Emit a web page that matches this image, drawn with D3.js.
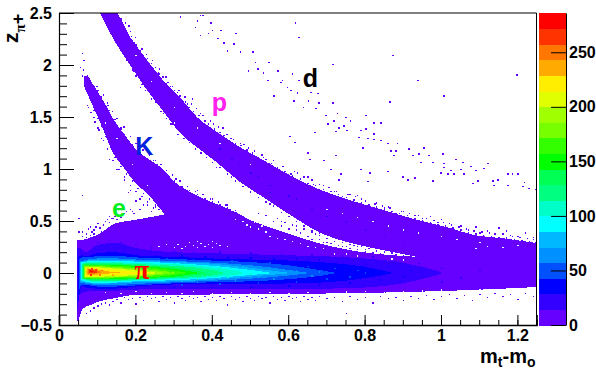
<!DOCTYPE html>
<html>
<head>
<meta charset="utf-8">
<script src="https://d3js.org/d3.v7.min.js"></script>
<style>
  html, body { margin: 0; background: #fff; }
  svg { display: block; }
  text { font-family: "Liberation Sans", Arial, sans-serif; font-weight: bold; fill: #000; }
</style>
</head>
<body>
<svg id="chart" width="596" height="372"></svg>
<script>
const palette = ["#6600ff", "#3300ff", "#0000ff", "#0050ff", "#0090ff", "#00b8ff", "#00ffff", "#00ffc8", "#00ff80", "#00ff55",
  "#00ff00", "#33ff00", "#77ff00", "#a0ff00", "#e0ff00", "#ffee00", "#ffaa00", "#ff7700", "#ff3300", "#ff0000"];
const colorMax = 286;
const colorTicks = [0, 50, 100, 150, 200, 250];
const xTicks = [0, 0.2, 0.4, 0.6, 0.8, 1, 1.2];
const yTicks = [-0.5, 0, 0.5, 1, 1.5, 2, 2.5];

// outer edges of the particle bands: [mt, z high, z low]
const mainBand = [[.046,.32,-.43],[.05,.32,-.47],[.055,.32,-.41],[.063,.32,-.34],[.081,.34,-.31],[.10,.365,-.28],[.149,.48,-.24],[.199,.51,-.21],[.272,.56,-.21],[.369,.62,-.21],[.45,.6,-.2],[.50,.51,-.2],[.587,.395,-.2],[.676,.29,-.2],[.762,.22,-.19],[.815,.19,-.19],[.938,.155,-.18],[1.069,.105,-.165],[1.25,.105,-.135]];
const kaonBand = [[.065,1.89,1.80],[.076,1.89,1.71],[.086,1.83,1.625],[.102,1.74,1.5],[.115,1.66,1.385],[.128,1.58,1.27],[.139,1.5,1.17],[.155,1.41,1.08],[.168,1.35,1.02],[.186,1.26,.93],[.204,1.18,.85],[.233,1.10,.76],[.265,1.02,.615],[.309,.856,.46],[.343,.78,.41],[.388,.70,.41],[.45,.61,.4]];
const protonBand = [[.107,2.5,2.5],[.147,2.5,2.22],[.186,2.27,2.0],[.23,2.05,1.76],[.272,1.855,1.56],[.317,1.69,1.345],[.361,1.5,1.21],[.414,1.356,1.06],[.474,1.21,.875],[.534,1.087,.73],[.613,.923,.54],[.684,.80,.385],[.762,.70,.29],[.849,.606,.22],[.938,.51,.155],[1.024,.433,.105],[1.085,.365,.105],[1.155,.337,.105],[1.25,.288,.105]];

// nested count contours of the pion blob: [mt, z high, z low]
const contour15 = [[.048,.24,-.36],[.055,.24,-.2],[.07,.20,-.18],[.1,.27,-.17],[.15,.29,-.17],[.2,.24,-.16],[.3,.2,-.15],[.4,.19,-.15],[.5,.18,-.15],[.6,.17,-.15],[.7,.16,-.15],[.8,.14,-.14],[.9,.1,-.1],[1.0,.01,-.01]];
const contour29 = [[.05,.16,-.3],[.06,.17,-.12],[.07,.16,-.14],[.1,.19,-.15],[.15,.2,-.15],[.2,.17,-.13],[.3,.155,-.11],[.4,.14,-.11],[.5,.13,-.11],[.6,.12,-.10],[.7,.1,-.09],[.8,.06,-.05],[.87,.005,-.005]];
const contour43 = [[.052,.13,-.18],[.06,.15,-.11],[.1,.16,-.13],[.15,.165,-.13],[.2,.15,-.12],[.3,.135,-.1],[.4,.12,-.09],[.5,.105,-.08],[.6,.075,-.06],[.68,.03,-.03],[.72,.005,-.005]];
const contour58 = [[.054,.11,-.09],[.1,.14,-.115],[.15,.14,-.115],[.2,.13,-.105],[.3,.115,-.09],[.4,.1,-.075],[.5,.075,-.055],[.6,.03,-.025],[.65,.003,-.003]];
const contour72 = [[.055,.105,-.08],[.1,.13,-.105],[.2,.12,-.09],[.3,.105,-.08],[.4,.09,-.065],[.5,.05,-.035],[.58,.012,-.01],[.6,.004,-.004]];
const contour86 = [[.057,.10,-.07],[.1,.12,-.1],[.2,.11,-.08],[.3,.095,-.07],[.4,.07,-.05],[.5,.03,-.02],[.55,.005,-.005]];
const contour100 = [[.06,.095,-.06],[.1,.11,-.09],[.2,.095,-.07],[.3,.085,-.06],[.4,.055,-.04],[.48,.01,-.01]];
const contour115 = [[.061,.09,-.055],[.1,.1,-.08],[.2,.085,-.065],[.3,.07,-.05],[.4,.03,-.025],[.43,.005,-.005]];
const contour129 = [[.062,.085,-.055],[.1,.09,-.07],[.2,.075,-.06],[.3,.055,-.045],[.38,.01,-.01]];
const contour143 = [[.065,.08,-.055],[.1,.08,-.06],[.2,.07,-.05],[.3,.04,-.035],[.36,.005,-.005]];
const contour158 = [[.065,.075,-.05],[.1,.075,-.055],[.2,.06,-.045],[.28,.035,-.03],[.33,.005,-.005]];
const contour172 = [[.066,.065,-.045],[.1,.065,-.045],[.18,.05,-.04],[.26,.025,-.02],[.3,.005,-.005]];
const contour186 = [[.068,.06,-.04],[.1,.06,-.04],[.16,.045,-.035],[.22,.03,-.025],[.27,.005,-.005]];
const contour200 = [[.068,.055,-.035],[.1,.055,-.035],[.15,.04,-.03],[.2,.025,-.02],[.25,.005,-.005]];
const contour215 = [[.07,.05,-.03],[.1,.045,-.025],[.14,.03,-.02],[.2,.01,-.008],[.22,.004,-.002]];
const contour229 = [[.072,.045,-.02],[.1,.035,-.015],[.13,.015,-.005],[.16,.006,0]];
const contour243 = [[.075,.04,-.012],[.095,.025,-.005],[.11,.012,0]];
const contour258 = [[.078,.035,-.005],[.09,.025,-.003],[.1,.012,.004]];
const contour272 = [[.08,.03,.005],[.088,.02,.008]];
const contourLevels = [contour15, contour29, contour43, contour58, contour72, contour86, contour100, contour115, contour129, contour143, contour158, contour172, contour186, contour200, contour215, contour229, contour243, contour258, contour272];

// isolated filled bins: [mt, z]
const deuteronBins = [[.369,2.48],[.375,2.48],[.361,2.43],[.356,2.37],[.396,2.41],[.40,2.34],[.39,2.31],[.369,2.29],[.422,2.34],[.414,2.26],[.43,2.22],[.461,2.31],[.456,2.21],[.44,2.14],[.474,2.13],[.506,2.13],[.513,2.03],[.495,1.95],[.519,1.97],[.548,2.03],[.534,1.93],[.571,1.95],[.545,1.86],[.579,1.84],[.597,1.79],[.561,1.71],[.623,1.74],[.613,1.66],
  [.584,1.86],[.61,1.92],[.605,1.76],[.626,1.86],[.623,1.73],[.658,1.74],[.676,1.73],[.652,1.66],[.679,1.64],[.715,1.64],[.639,1.6],[.671,1.59],[.697,1.52],[.728,1.54],[.718,1.47],[.749,1.5],[.744,1.42],[.762,1.47],[.702,1.44],[.731,1.4],[.752,1.375],[.723,1.365],[.802,1.52],[.823,1.45],[.841,1.45],[.802,1.39],[.789,1.375],[.823,1.345],[.783,1.31],[.807,1.3],[.841,1.28],[.823,1.29],[.794,1.21],[.859,1.25],[.867,1.18],[.885,1.25],[.88,1.18],[.875,1.135],[.914,1.2],[.925,1.135],[.941,1.15],[.954,1.21],[.946,1.07],[.967,1.135],[.977,1.07],[1.003,1.15],[1.006,1.06],[1.006,1.02],[1.037,1.1],[1.056,1.07],[1.024,.99],[1.05,1.0],[1.077,1.03],[1.09,.99],[1.121,1.06],[1.111,1.01],[1.095,.89],[1.134,.89],[1.147,.9],[1.174,.96],[1.186,.96],[1.2,.96],[1.137,.85],[1.174,.85],[1.213,.84],[1.216,.875],[1.082,.865],[1.229,.82],[1.247,.81],[.998,.97],[1.016,.96],[1.032,.96],[1.058,.96],
  [.872,2.1],[.715,2.01],[1.197,1.91],[.938,1.86],[1.006,1.71],[.865,1.65],[.668,1.36],[.603,1.32],[.616,1.26],[.65,1.16],[.723,1.135],[.692,1.09],[.655,1.1],[.71,1.0],[.789,1.0],[.812,.97],[.859,.98],[.736,.96],[.731,.9],[.899,.93],[.912,.9],[.93,.92],[.977,.89],[.807,.885],[.618,2.41],[.626,2.27],[.317,2.47]];
const protonFringe = [[.16,2.45],[.181,2.38],[.191,2.22],[.204,2.14],[.22,2.1],[.251,1.98],[.259,1.93],[.283,1.84],[.309,1.74],[.348,1.68],[.335,1.63],[.369,1.54],[.403,1.44],[.427,1.4],[.448,1.3],[.474,1.25],[.495,1.21],[.534,1.12],[.548,1.06],[.579,.97],[.605,.96],[.623,.97],[.65,.93],[.665,.86],[.69,.85],[.72,.79],[.74,.74],[.76,.76],[.79,.72],[.81,.66],[.83,.68],[.86,.64],[.88,.58],[.9,.6],[.93,.56],[.95,.53],[.97,.55],[.99,.49],[1.02,.48],[1.05,.46],[1.07,.42],[1.09,.45],[1.12,.41],[1.14,.38],[1.17,.41],[1.2,.36],[1.22,.39],[1.24,.35],[1.1,.39],[1.18,.37],[1.15,.44],[1.0,.52],[.85,.63],[.78,.75],[.194,1.95],[.212,1.79],[.272,1.54],[.291,1.44],[.335,1.35],[.37,1.2],[.41,1.02],[.45,.93],[.5,.78],[.55,.67],[.6,.55],[.64,.5],[.68,.42]];
const protonUpperEdge = [[.15,2.5],[.155,2.42],[.165,2.4],[.17,2.37],[.178,2.32],[.188,2.28],[.195,2.22],[.2,2.2],[.21,2.14],[.22,2.08],[.23,2.07],[.24,2.02],[.25,1.98],[.26,1.92],[.27,1.89],[.28,1.83],[.29,1.8],[.3,1.76],[.315,1.71],[.33,1.65],[.34,1.6],[.35,1.56],[.365,1.52],[.38,1.47],[.39,1.44],[.405,1.39],[.42,1.36],[.43,1.33],[.445,1.28],[.46,1.25],[.475,1.23],[.49,1.19],[.505,1.16],[.52,1.12],[.54,1.1],[.555,1.06],[.57,1.02],[.59,.98],[.61,.94],[.63,.91],[.65,.87],[.67,.85],[.69,.81],[.71,.79],[.73,.76],[.75,.73],[.77,.71],[.79,.68],[.81,.66],[.83,.64],[.85,.62],[.87,.6],[.89,.58],[.91,.56],[.93,.53],[.95,.51],[.97,.49],[.99,.47],[1.01,.46],[1.03,.44],[1.05,.42],[1.07,.39],[1.09,.38],[1.11,.37],[1.13,.36],[1.15,.35],[1.17,.345],[1.19,.33],[1.21,.32],[1.23,.31],[1.245,.3],
  [.172,2.41],[.186,2.33],[.198,2.27],[.215,2.16],[.228,2.11],[.243,2.05],[.262,1.97],[.278,1.89],[.296,1.8],[.312,1.76],[.328,1.7],[.345,1.63],[.358,1.59],[.375,1.52],[.395,1.47],[.415,1.41],[.438,1.34],[.455,1.29],[.482,1.24],[.51,1.18],[.53,1.14],[.56,1.09],[.585,1.03],[.615,.98],[.64,.93],[.66,.9],[.68,.86],[.705,.83],[.725,.79],[.755,.76],[.775,.74],[.8,.7],[.825,.67],[.845,.65],[.865,.63],[.895,.6],[.915,.58],[.94,.56],[.96,.53],[.98,.51],[1.005,.49],[1.025,.47],[1.045,.45],[1.065,.43],[1.085,.41],[1.105,.4],[1.125,.39],[1.16,.38],[1.185,.36],[1.205,.35],[1.225,.34],[1.24,.33]];
const protonLowerEdge = [[.16,2.18],[.175,2.05],[.19,1.96],[.2,1.9],[.215,1.82],[.225,1.76],[.24,1.68],[.25,1.65],[.265,1.56],[.28,1.49],[.295,1.44],[.31,1.34],[.325,1.3],[.34,1.26],[.355,1.2],[.37,1.16],[.385,1.12],[.4,1.07],[.42,1.02],[.44,.96],[.46,.89],[.48,.84],[.5,.79],[.52,.73],[.54,.69],[.56,.65],[.58,.59],[.6,.55],[.62,.5],[.64,.46],[.66,.41],[.68,.37]];
const gapBins = [[.52,.58],[.54,.56],[.56,.5],[.57,.53],[.58,.46],[.59,.49],[.6,.43],[.61,.47],[.62,.42],[.63,.39],[.64,.43],[.65,.36],[.66,.33],[.67,.38],[.68,.33],[.69,.3],[.7,.34],[.71,.29],[.72,.31],[.73,.27],[.74,.3],[.75,.26],[.76,.24],[.77,.27],[.78,.23],[.79,.26],[.8,.21],[.81,.24],[.82,.2],[.83,.22],[.84,.19],[.85,.21],[.86,.17],[.87,.2],[.88,.18],[.9,.17],[.92,.16],[.94,.14],[.96,.12],[.62,.46],[.66,.4],[.7,.3],[.74,.26],[.8,.23],[.78,.26],[.72,.35],[.68,.39],[.76,.28],[.58,.5]];
const kaonFringe = [[.126,1.62],[.134,1.5],[.16,1.4],[.199,1.25],[.246,1.09],[.272,.96],[.304,.91],[.322,.83],[.36,.8],[.4,.72],[.44,.66],[.06,2.12],[.055,1.98],[.062,1.96],[.06,1.9],[.073,1.9],[.064,2.05],[.081,1.86],[.09,1.78],[.075,1.6],[.09,1.5],[.1,1.4],[.11,1.3],[.13,1.1],[.15,1.0],[.17,.9],[.185,.8],[.21,.72],
  [.09,1.8],[.1,1.76],[.11,1.7],[.12,1.62],[.13,1.57],[.145,1.48],[.16,1.39],[.175,1.31],[.19,1.24],[.21,1.16],[.225,1.12],[.24,1.08],[.255,1.05],[.27,.99],[.285,.94],[.3,.89],[.32,.84],[.34,.8],[.36,.76],[.38,.72],[.4,.69],[.42,.66],[.44,.63],[.46,.61],
  [.08,1.68],[.09,1.57],[.1,1.49],[.11,1.42],[.12,1.32],[.13,1.24],[.145,1.12],[.16,1.03],[.175,.96],[.19,.89],[.205,.82],[.22,.77],[.235,.72],[.25,.66],[.26,.62],[.2,.7],[.18,.78],[.22,.66],[.24,.6],
  [.098,1.8],[.115,1.72],[.125,1.64],[.138,1.56],[.15,1.49],[.168,1.41],[.185,1.32],[.2,1.25],[.218,1.19],[.235,1.14],[.25,1.09],[.265,1.05],[.28,.99],[.295,.95],[.315,.89],[.335,.84],[.355,.79],[.375,.76],[.395,.72],[.415,.69],[.435,.66],
  [.072,1.62],[.082,1.55],[.092,1.46],[.103,1.38],[.115,1.28],[.125,1.2],[.14,1.09],[.155,1.0],[.17,.93],[.185,.85],[.2,.79],[.215,.74],[.23,.69],[.245,.63]];
const mainFringe = [[.06,.75],[.05,.53],[.08,.45],[.09,.42],[.1,.48],[.12,.5],[.13,.55],[.15,.52],[.17,.58],[.19,.6],[.21,.62],[.23,.66],[.25,.64],[.05,.4],[.06,.36],[.07,.38],[.11,.4],[.13,.49],[.14,.53],[.16,.54],
  [.06,.4],[.075,.43],[.085,.4],[.095,.45],[.105,.44],[.115,.47],[.125,.52],[.135,.53],[.145,.55],[.155,.56],[.165,.56],[.175,.6],[.185,.62],[.195,.58],[.07,.35],[.09,.38],[.08,.37],
  [.07,-.38],[.08,-.36],[.09,-.33],[.1,-.31],[.11,-.29],[.12,-.28],[.13,-.3],[.14,-.27],[.15,-.25],[.16,-.28],[.17,-.23],[.18,-.25],[.19,-.24],[.2,-.29],[.21,-.23],[.22,-.26],[.23,-.22],[.24,-.24],[.25,-.23],[.26,-.27],[.27,-.22],[.28,-.25],[.29,-.23],[.3,-.28],[.31,-.22],[.32,-.24],[.33,-.26],[.34,-.22],[.35,-.24],[.36,-.23],[.37,-.27],[.38,-.22],[.39,-.25],[.4,-.23],[.41,-.26],[.42,-.22],[.43,-.24],[.44,-.3],[.45,-.22],[.46,-.25],[.47,-.23],[.48,-.27],[.49,-.22],[.5,-.24],[.51,-.26],[.52,-.22],[.53,-.24],[.54,-.23],[.55,-.28],[.56,-.22],[.57,-.25],[.58,-.23],[.59,-.26],[.6,-.22],[.61,-.24],[.62,-.23],[.63,-.27],[.64,-.22],[.65,-.25],[.66,-.23],[.67,-.26],[.68,-.22],[.7,-.24],[.72,-.23],[.74,-.27],[.75,-.38],[.76,-.22],[.78,-.25],[.8,-.23],[.82,-.28],[.84,-.22],[.86,-.24],[.88,-.23],[.9,-.26],[.92,-.22],[.94,-.24],[.96,-.21],[.98,-.25],[1.0,-.22],[1.02,-.2],[1.04,-.24],[1.06,-.21],[1.08,-.26],[1.1,-.2],[1.12,-.23],[1.14,-.19],[1.16,-.22],[1.18,-.2],[1.2,-.25],[1.22,-.19],[1.24,-.22]];
const holeBins = [[.26,.26],[.28,.28],[.3,.25],[.31,.28],[.33,.26],[.34,.3],[.35,.27],[.36,.25],[.37,.29],[.38,.26],[.39,.28],[.4,.25],[.41,.29],[.42,.27],[.44,.26],[.36,.31],[.4,.31],[.32,.24],
  [.46,.52],[.48,.5],[.49,.47],[.5,.45],[.51,.49],[.52,.43],[.53,.46],[.54,.4],[.55,.36],[.57,.34],[.59,.33],[.61,.31],[.63,.29],[.65,.26],[.67,.25],[.69,.24],[.72,.19],[.75,.19],[.78,.17],[.82,.16],[.87,.14],[.9,.13],
  [1.09,.24],[1.12,.26],[1.16,.25],[1.2,.27],[.12,-.18],[.16,-.19],[.2,-.17],[.24,-.19],[.28,-.18],[.32,-.19],[.35,-.17],[.4,-.19],[.45,-.18],[.5,-.19],[.55,-.18],[.6,-.19],[.65,-.18],[.7,-.19],[.75,-.175],[.8,-.17],[.85,-.18],[.9,-.17],[.95,-.165],[1.0,-.155],[1.05,-.16],[1.1,-.15],[1.15,-.155],[1.18,-.14],[1.22,-.15],
  [.7,.62],[.74,.58],[.78,.54],[.82,.5],[.86,.46],[.9,.42],[.94,.39],[1.0,.36],[1.04,.33],[1.1,.3],[.3,1.6],[.36,1.4],[.42,1.25],[.5,1.05],[.3,1.45],[.24,1.85],[.2,2.1],[.12,1.45],[.15,1.3],[.19,1.05],[.23,.85]];
// single bins that stand out from the smooth contours: [mt, z, count]
const grainBins = [[.42,1.2,20],[.45,1.1,20],[.47,1.05,20],[.5,.97,20],[.52,.93,20],[.55,.85,20],[.57,.82,20],[.6,.75,20],[.62,.72,20],[.66,.62,20],[.7,.55,20],[.75,.5,20],[.8,.42,20],[.85,.37,20],[.9,.3,20],[.55,.78,20],
  [.1,.3,20],[.13,.32,20],[.16,.3,20],[.2,.28,20],[.24,.25,20],[.3,.22,20],[.35,.21,20],[.42,.21,20],[.5,.2,20],[.58,.19,20],[.66,.18,20],[.74,.17,20],[.82,.16,20],[.88,.12,20],[.94,.1,20],[1.0,.05,20],[1.05,-.04,20],[1.1,.03,20],[1.0,-.08,20],
  [.25,.17,35],[.32,.17,35],[.38,.16,35],[.44,.15,35],[.5,.15,35],[.56,.14,35],[.62,.14,35],[.68,.13,35],[.74,.11,35],[.8,.09,35],[.86,.06,35],[.92,.03,35],[.9,-.03,35],[.84,-.06,35],[.76,-.09,35],[.68,-.11,35],[.6,-.12,35],[.5,-.13,35],[.4,-.13,35],[.3,-.13,35],
  [.2,.155,50],[.28,.145,50],[.35,.135,50],[.45,.125,50],[.55,.11,50],[.65,.07,50],[.72,.05,50],[.78,.03,50],[.8,.01,50],[.76,-.03,50],[.7,-.05,50],[.62,-.08,50],[.52,-.09,50],[.42,-.1,50],[.32,-.11,50],
  [.25,.125,65],[.35,.11,65],[.45,.09,65],[.55,.06,65],[.62,.03,65],[.68,.02,65],[.66,-.02,65],[.56,-.05,65],[.46,-.07,65],[.36,-.08,65],
  [.3,.1,80],[.4,.085,80],[.48,.065,80],[.54,.03,80],[.58,.01,80],[.52,-.03,80],[.42,-.055,80],[.32,-.07,80],
  [.35,.075,105],[.42,.06,105],[.46,.03,105],[.5,.0,105],[.44,-.03,105],[.36,-.05,105],[.26,.085,105],[.24,-.06,105],
  [.3,.05,130],[.36,.03,130],[.38,-.01,130],[.32,-.035,130],[.25,.06,150],[.29,.02,150],[.27,-.025,150],[.22,.045,175],[.25,.01,175],[.2,-.03,175],
  [.17,.04,205],[.2,.015,205],[.15,-.025,205],[.13,.035,220],[.17,.01,220],[.14,-.01,235],[.12,.02,235],[.11,.03,250],[.105,-.01,250],[.095,.035,262],[.085,.045,262],[.082,-.012,262],[.07,.02,235]];
const particleLabels = ["e", "K", "p", "d"];
const labelMt = [0.157, 0.223, 0.42, 0.658];
const labelZ = [0.54, 1.13, 1.56, 1.79];
const labelColors = ["#00ee22", "#0022dd", "#ff22ee", "#000000"];

const plot = { left: 59, right: 536.5, top: 13, bottom: 325 };
const xScale = d3.scaleLinear().domain([0, 1.25]).range([plot.left, plot.right]);
const yScale = d3.scaleLinear().domain([-0.5, 2.5]).range([plot.bottom, plot.top]);
const colorScale = d3.scaleLinear().domain([0, colorMax]).range([plot.bottom, plot.top]);
const binColor = (value) => palette[Math.floor(value / (colorMax / palette.length))];

const svg = d3.select("#chart");
svg.append("defs").append("clipPath").attr("id", "plot-clip").append("rect")
  .attr("x", plot.left).attr("y", plot.top)
  .attr("width", plot.right - plot.left).attr("height", plot.bottom - plot.top);

const marks = svg.append("g").attr("clip-path", "url(#plot-clip)").attr("shape-rendering", "crispEdges");

const area = d3.area()
  .x((d) => xScale(d[0]))
  .y0((d) => yScale(d[2]))
  .y1((d) => yScale(d[1]))
  .curve(d3.curveMonotoneX);

marks.selectAll(".band")
  .data([mainBand, kaonBand, protonBand])
  .join("path")
  .attr("class", "band")
  .attr("d", area)
  .attr("fill", palette[0]);

const drawBins = (bins, color) => {
  marks.append("g").selectAll("rect")
    .data(bins)
    .join("rect")
    .attr("x", (d) => xScale(d[0]))
    .attr("y", (d) => yScale(d[1]))
    .attr("width", 1.4)
    .attr("height", 1.4)
    .attr("fill", color);
};
drawBins(holeBins, "#fff");
drawBins(deuteronBins, palette[0]);
drawBins(protonFringe, palette[0]);
drawBins(protonUpperEdge, palette[0]);
drawBins(protonLowerEdge, palette[0]);
drawBins(gapBins, palette[0]);
drawBins(kaonFringe, palette[0]);
drawBins(mainFringe, palette[0]);

marks.selectAll(".contour")
  .data(contourLevels)
  .join("path")
  .attr("class", "contour")
  .attr("d", area)
  .attr("fill", (d, i) => palette[i + 1]);

marks.append("g").selectAll("rect")
  .data(grainBins)
  .join("rect")
  .attr("x", (d) => xScale(d[0]))
  .attr("y", (d) => yScale(d[1]))
  .attr("width", 1.6)
  .attr("height", 1.6)
  .attr("fill", (d) => binColor(d[2]));

// particle names
svg.selectAll(".particle")
  .data(particleLabels)
  .join("text")
  .attr("class", "particle")
  .attr("x", (d, i) => xScale(labelMt[i]))
  .attr("y", (d, i) => yScale(labelZ[i]))
  .attr("text-anchor", "middle")
  .style("font-size", "25px")
  .style("fill", (d, i) => labelColors[i])
  .text((d) => d);
svg.append("text")
  .attr("x", xScale(0.217)).attr("y", yScale(-0.055))
  .attr("text-anchor", "middle")
  .style("font-family", "'Liberation Serif', serif")
  .style("font-size", "27px")
  .style("fill", "#ff0000")
  .text("π");

// ROOT style axes: ticks point into the frame
const styleAxis = (g) => {
  g.select(".domain").attr("stroke", "#000");
  g.selectAll(".tick line").attr("stroke", "#000");
  g.selectAll("text").style("font-size", "16px").style("font-family", "'Liberation Sans', Arial, sans-serif");
};

svg.append("g")
  .attr("transform", `translate(0, ${plot.bottom})`)
  .call(d3.axisBottom(xScale).tickValues(d3.range(0, 1.2501, 0.05)).tickSize(-5).tickFormat(""))
  .call(styleAxis);
svg.append("g")
  .attr("transform", `translate(0, ${plot.bottom})`)
  .call(d3.axisBottom(xScale).tickValues(xTicks).tickSize(-10).tickPadding(5).tickFormat(d3.format("")))
  .call(styleAxis)
  .call((g) => g.selectAll(".tick text").attr("y", 5))
  .call((g) => g.select(".domain").attr("stroke-width", 1.6));
svg.append("g")
  .attr("transform", `translate(${plot.left}, 0)`)
  .call(d3.axisLeft(yScale).tickValues(d3.range(-0.5, 2.5001, 0.1)).tickSize(-8).tickFormat(""))
  .call(styleAxis);
svg.append("g")
  .attr("transform", `translate(${plot.left}, 0)`)
  .call(d3.axisLeft(yScale).tickValues(yTicks).tickSize(-15).tickPadding(7).tickFormat(d3.format("")))
  .call(styleAxis)
  .call((g) => g.select(".domain").attr("stroke-width", 1.2));

// top and right side of the frame
svg.append("path")
  .attr("d", d3.line()([[plot.left, plot.top], [plot.right, plot.top], [plot.right, plot.bottom]]))
  .attr("fill", "none")
  .attr("stroke", "#000");

// axis titles
const xTitle = svg.append("text")
  .attr("x", plot.right - 1).attr("y", 363)
  .attr("text-anchor", "end")
  .style("font-size", "20px");
xTitle.append("tspan").text("m");
xTitle.append("tspan").attr("dy", 4).style("font-size", "14px").text("t");
xTitle.append("tspan").attr("dy", -4).text("-m");
xTitle.append("tspan").attr("dy", 4).style("font-size", "14px").text("o");

const yTitle = svg.append("text")
  .attr("transform", "translate(18, 43) rotate(-90)")
  .style("font-size", "21px");
yTitle.append("tspan").text("z");
yTitle.append("tspan").attr("dy", 7).style("font-family", "'Liberation Serif', serif").style("font-size", "15px").text("π");
yTitle.append("tspan").attr("dy", -1.5).style("font-size", "18px").text("+");

// colour bar
const barX = 539;
const barWidth = 27;
svg.append("g").attr("shape-rendering", "crispEdges")
  .selectAll("rect")
  .data(palette)
  .join("rect")
  .attr("x", barX)
  .attr("y", (d, i) => colorScale((i + 1) * colorMax / palette.length))
  .attr("width", barWidth)
  .attr("height", (d, i) => colorScale(i * colorMax / palette.length) - colorScale((i + 1) * colorMax / palette.length) + 0.5)
  .attr("fill", (d) => d);
svg.append("g")
  .attr("transform", `translate(${barX + barWidth}, 0)`)
  .call(d3.axisRight(colorScale).tickValues(colorTicks).tickSize(0).tickPadding(3).tickFormat(d3.format("")))
  .call(styleAxis)
  .call((g) => g.selectAll(".tick line").attr("x2", -15));
</script>
</body>
</html>
